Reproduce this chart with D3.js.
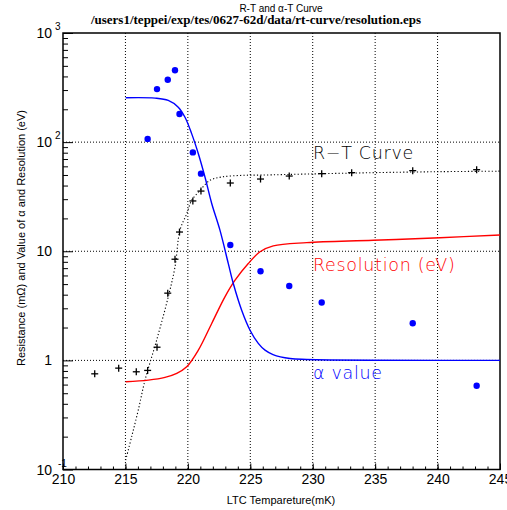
<!DOCTYPE html>
<html>
<head>
<meta charset="utf-8">
<script src="https://cdn.jsdelivr.net/npm/d3@7"></script>
<style>
  html, body { margin: 0; padding: 0; background: #fff; }
  svg { display: block; }
</style>
</head>
<body>
<main></main>
<script>

// Measured points (temperature in mK)
const rT = [212.54, 214.46, 215.87, 216.78, 217.53, 218.39, 218.97, 219.33, 220.40, 221.05, 223.40, 225.82, 228.12, 230.72, 233.12, 238.01, 243.13];
const rV = [0.753, 0.849, 0.786, 0.809, 1.32, 4.13, 8.45, 15.0, 28.9, 35.6, 42.2, 45.9, 48.9, 51.4, 52.5, 54.8, 55.9];

const alphaT = [216.78, 217.53, 218.39, 218.97, 219.33, 220.40, 221.05, 223.40, 225.82, 228.12, 230.72, 238.01, 243.13];
const alphaV = [107, 306, 373, 456, 181, 80.5, 51.4, 11.4, 6.56, 4.81, 3.39, 2.19, 0.585];

// Fitted curves
const rtFitT = [215.02, 215.5, 216.03, 216.57, 217.5, 218.43, 218.97, 219.37, 219.91, 220.31, 220.97, 221.77, 222.71, 224.31, 225.91, 229.52, 234.85, 240.19, 245];
const rtFitV = [0.122, 0.2, 0.351, 0.659, 1.53, 3.82, 7.18, 15.6, 22.1, 29.3, 36.1, 44.7, 47.9, 49.6, 49.9, 51.0, 52.5, 53.6, 54.2];

const resFitT = [215.02, 216.83, 218.17, 219.11, 219.91, 220.84, 221.91, 222.97, 223.78, 224.84, 225.78, 226.84, 229.52, 234.85, 240.19, 245];
const resFitV = [0.637, 0.659, 0.698, 0.76, 0.873, 1.24, 2.18, 3.82, 5.43, 7.71, 9.9, 11.2, 12.0, 12.6, 13.3, 14.1];

const alphaFitT = [215.02, 217.37, 218.43, 219.23, 219.77, 220.31, 220.84, 221.37, 221.91, 222.57, 223.24, 223.64, 224.31, 224.98, 225.64, 226.18, 226.82, 228.18, 229.52, 245];
const alphaFitV = [255, 253, 241, 209, 169, 119, 78.3, 47.9, 27.4, 15.6, 7.71, 5.06, 2.88, 1.89, 1.43, 1.24, 1.13, 1.04, 1.02, 1.0];

// Axis ticks / labels
const xMajor = [210, 215, 220, 225, 230, 235, 240, 245];
const yMajor = [0.1, 1, 10, 100, 1000];
const yLabels = [["10", "-1"], ["1", ""], ["10", ""], ["10", "2"], ["10", "3"]];

const [w, h] = [507, 510];
const padL = 63, padR = 500, padT = 33, padB = 469.5;

const svg = d3.select('main')
    .append('svg')
    .attr('width', w)
    .attr('height', h);

// Scales
const xScale = d3.scaleLinear().domain([210, 245]).range([padL, padR]);
const yScale = d3.scaleLog().domain([0.1, 1000]).range([padB, padT]);

// Grid (dotted)
svg.append('g').selectAll('line')
    .data(xMajor.slice(1, -1))
    .enter().append('line')
    .attr('x1', d => xScale(d)).attr('x2', d => xScale(d))
    .attr('y1', padT).attr('y2', padB)
    .attr('stroke', '#000').attr('stroke-width', 1).attr('stroke-dasharray', '1,2');

svg.append('g').selectAll('line')
    .data(yMajor.slice(1, -1))
    .enter().append('line')
    .attr('y1', d => yScale(d)).attr('y2', d => yScale(d))
    .attr('x1', padL).attr('x2', padR)
    .attr('stroke', '#000').attr('stroke-width', 1).attr('stroke-dasharray', '1,2');

// X axis: minor ticks each mK, major every 5
const xMinor = d3.range(210, 246, 1);
svg.append('g')
    .attr('transform', 'translate(0,' + padB + ')')
    .call(d3.axisBottom(xScale).tickValues(xMinor).tickSize(-3).tickFormat(''))
    .call(g => g.select('.domain').remove());

svg.append('g')
    .attr('transform', 'translate(0,' + padB + ')')
    .call(d3.axisBottom(xScale).tickValues(xMajor).tickSize(-6).tickPadding(5).tickFormat(d3.format('d')))
    .call(g => g.select('.domain').remove())
    .call(g => g.selectAll('text')
        .attr('font-family', 'Liberation Sans, Arial, sans-serif')
        .attr('font-size', 14)
        .attr('fill', '#000'));

// Y axis: log minor ticks
const yMinor = [];
[0.1, 1, 10, 100].forEach(dec => d3.range(2, 10).forEach(k => yMinor.push(dec * k)));
svg.append('g')
    .attr('transform', 'translate(' + padL + ',0)')
    .call(d3.axisLeft(yScale).tickValues(yMinor).tickSize(-5).tickFormat(''))
    .call(g => g.select('.domain').remove());

svg.append('g')
    .attr('transform', 'translate(' + padL + ',0)')
    .call(d3.axisLeft(yScale).tickValues(yMajor).tickSize(-10).tickFormat(''))
    .call(g => g.select('.domain').remove());

// Y tick labels with superscripts
yMajor.forEach((v, i) => {
    const [base, sup] = yLabels[i];
    svg.append('text')
        .attr('x', 52).attr('y', yScale(v) + 5)
        .attr('text-anchor', 'end')
        .attr('font-family', 'Liberation Sans, Arial, sans-serif')
        .attr('font-size', 14)
        .text(base);
    if (sup !== '') {
        svg.append('text')
            .attr('x', sup === '-1' ? 58 : 55).attr('y', yScale(v) - 3)
            .attr('font-family', 'Liberation Sans, Arial, sans-serif')
            .attr('font-size', 10)
            .text(sup);
    }
});

// Frame
svg.append('rect')
    .attr('x', padL).attr('y', padT)
    .attr('width', padR - padL).attr('height', padB - padT)
    .attr('fill', 'none').attr('stroke', '#000').attr('stroke-width', 1.5);

// Curves
const line = d3.line()
    .x(d => xScale(d[0]))
    .y(d => yScale(d[1]))
    .curve(d3.curveCatmullRom.alpha(0.5));

const zipped = (a, b) => a.map((t, i) => [t, b[i]]);

svg.append('path')
    .attr('d', line(zipped(rtFitT, rtFitV)))
    .attr('fill', 'none').attr('stroke', '#000').attr('stroke-width', 1.1)
    .attr('stroke-dasharray', '1.2,2.2');

svg.append('path')
    .attr('d', line(zipped(resFitT, resFitV)))
    .attr('fill', 'none').attr('stroke', '#ff0000').attr('stroke-width', 1.4);

svg.append('path')
    .attr('d', line(zipped(alphaFitT, alphaFitV)))
    .attr('fill', 'none').attr('stroke', '#0000ff').attr('stroke-width', 1.4);

// Alpha points
svg.append('g').selectAll('circle')
    .data(zipped(alphaT, alphaV))
    .enter().append('circle')
    .attr('cx', d => xScale(d[0]))
    .attr('cy', d => yScale(d[1]))
    .attr('r', 3.2)
    .attr('fill', '#0000ff');

// Resistance points (crosses)
const cross = svg.append('g').selectAll('g')
    .data(zipped(rT, rV))
    .enter().append('g')
    .attr('transform', d => 'translate(' + xScale(d[0]) + ',' + yScale(d[1]) + ')');
cross.append('line').attr('x1', -3.5).attr('x2', 3.5).attr('y1', 0).attr('y2', 0)
    .attr('stroke', '#000').attr('stroke-width', 1.3);
cross.append('line').attr('y1', -3.5).attr('y2', 3.5).attr('x1', 0).attr('x2', 0)
    .attr('stroke', '#000').attr('stroke-width', 1.3);

// Curve labels
const labelFont = 'DejaVu Sans, sans-serif';
const labels = [
    { text: 'R\u2212T Curve', y: 159, color: '#000' },
    { text: 'Resolution (eV)', y: 271, color: '#ff0000' },
    { text: '\u03b1 value', y: 379, color: '#0000ff' }
];
labels.forEach(l => {
    svg.append('text').attr('x', 313).attr('y', l.y)
        .attr('font-family', labelFont).attr('font-weight', 200).attr('font-size', 17.5)
        .attr('letter-spacing', 0.7)
        .attr('fill', l.color).text(l.text);
});

// Titles
svg.append('text').attr('x', 281).attr('y', 12)
    .attr('text-anchor', 'middle')
    .attr('font-family', 'Liberation Sans, Arial, sans-serif').attr('font-size', 10)
    .text('R-T and \u03b1-T Curve');
svg.append('text').attr('x', 256).attr('y', 24)
    .attr('text-anchor', 'middle')
    .attr('font-family', 'Liberation Serif, Times New Roman, serif').attr('font-weight', 'bold').attr('font-size', 13)
    .text('/users1/teppei/exp/tes/0627-62d/data/rt-curve/resolution.eps');

// Axis titles
svg.append('text').attr('x', 281).attr('y', 504)
    .attr('text-anchor', 'middle')
    .attr('font-family', 'Liberation Sans, Arial, sans-serif').attr('font-size', 11)
    .text('LTC Tempareture(mK)');
svg.append('text')
    .attr('transform', 'translate(25,238) rotate(-90)')
    .attr('text-anchor', 'middle')
    .attr('font-family', 'Liberation Sans, Arial, sans-serif').attr('font-size', 11)
    .text('Resistance (m\u03a9) and Value of \u03b1 and Resolution (eV)');

</script>
</body>
</html>
